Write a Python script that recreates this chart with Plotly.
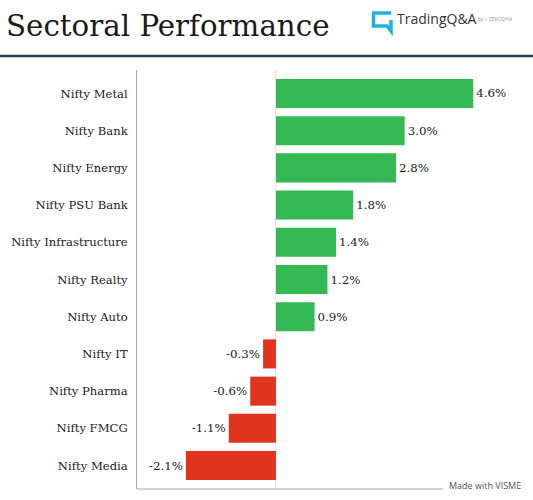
import plotly.graph_objects as go

categories = ["Nifty Metal", "Nifty Bank", "Nifty Energy", "Nifty PSU Bank",
              "Nifty Infrastructure", "Nifty Realty", "Nifty Auto", "Nifty IT",
              "Nifty Pharma", "Nifty FMCG", "Nifty Media"]
values = [4.6, 3.0, 2.8, 1.8, 1.4, 1.2, 0.9, -0.3, -0.6, -1.1, -2.1]
value_labels = ["4.6%", "3.0%", "2.8%", "1.8%", "1.4%", "1.2%", "0.9%",
                "-0.3%", "-0.6%", "-1.1%", "-2.1%"]

GREEN = "#35b955"
RED = "#e1341f"
colors = [GREEN if v >= 0 else RED for v in values]

W, H = 533, 500
SERIF = "DejaVu Serif"

def px(x):
    return x / W

def py(y):
    return 1 - y / H

fig = go.Figure(go.Bar(
    x=values, y=categories, orientation="h",
    marker=dict(color=colors, line=dict(width=0)),
    text=value_labels, textposition="outside", cliponaxis=False,
    textfont=dict(family=SERIF, size=11.8, color="#1a1a1a"),
    hoverinfo="skip",
))

fig.update_layout(
    width=W, height=H, margin=dict(l=0, r=0, t=0, b=0),
    paper_bgcolor="white", plot_bgcolor="white",
    showlegend=False, bargap=0.22,
    xaxis=dict(domain=[px(137), px(520)], range=[-3.24, 5.69],
               showgrid=False, showticklabels=False, ticks="",
               zeroline=True, zerolinecolor="#e4e4e4", zerolinewidth=1,
               showline=False, fixedrange=True),
    yaxis=dict(domain=[py(489), py(70)], range=[10.63, -0.63],
               showgrid=False, showline=True, linecolor="#aaaaaa", linewidth=1,
               ticks="outside", ticklen=6, tickcolor="rgba(0,0,0,0)",
               tickfont=dict(family=SERIF, size=11.6, color="#1a1a1a"),
               fixedrange=True),
    shapes=[
        # bottom axis line
        dict(type="line", xref="paper", yref="paper", x0=px(137), x1=px(443),
             y0=py(489), y1=py(489), line=dict(color="#aaaaaa", width=1)),
        # header rule
        dict(type="line", xref="paper", yref="paper", x0=0, x1=1,
             y0=py(56), y1=py(56), line=dict(color="#2d3e58", width=2.5)),
        # logo icon
        dict(type="path", xref="paper", yref="paper",
             path=(f"M {px(372)},{py(13)} L {px(391)},{py(13)} "
                   f"M {px(373.5)},{py(12)} L {px(373.5)},{py(26)} L {px(387)},{py(26)} "
                   f"L {px(391)},{py(31)} L {px(391)},{py(20)}"),
             line=dict(color="#1fb0e6", width=3.5)),
    ],
    annotations=[
        dict(text="Sectoral Performance", x=px(4), y=py(26), xref="paper", yref="paper",
             xanchor="left", yanchor="middle", showarrow=False,
             font=dict(family=SERIF, size=29.3, color="#1a1a1a")),
        dict(text="TradingQ&A", x=px(395), y=py(18), xref="paper", yref="paper",
             xanchor="left", yanchor="middle", showarrow=False,
             font=dict(family="Open Sans", size=14, color="#333")),
        dict(text="by ≡ ZERODHA", x=px(476), y=py(19), xref="paper", yref="paper",
             xanchor="left", yanchor="middle", showarrow=False,
             font=dict(family="Open Sans", size=5, color="#999")),
        dict(text="Made with VISME", x=px(447), y=py(485), xref="paper", yref="paper",
             xanchor="left", yanchor="middle", showarrow=False,
             font=dict(family="Open Sans", size=9, color="#555")),
    ],
)

fig.write_html("out.html", config={"displayModeBar": False},
               post_script="document.body.style.margin='0';")
